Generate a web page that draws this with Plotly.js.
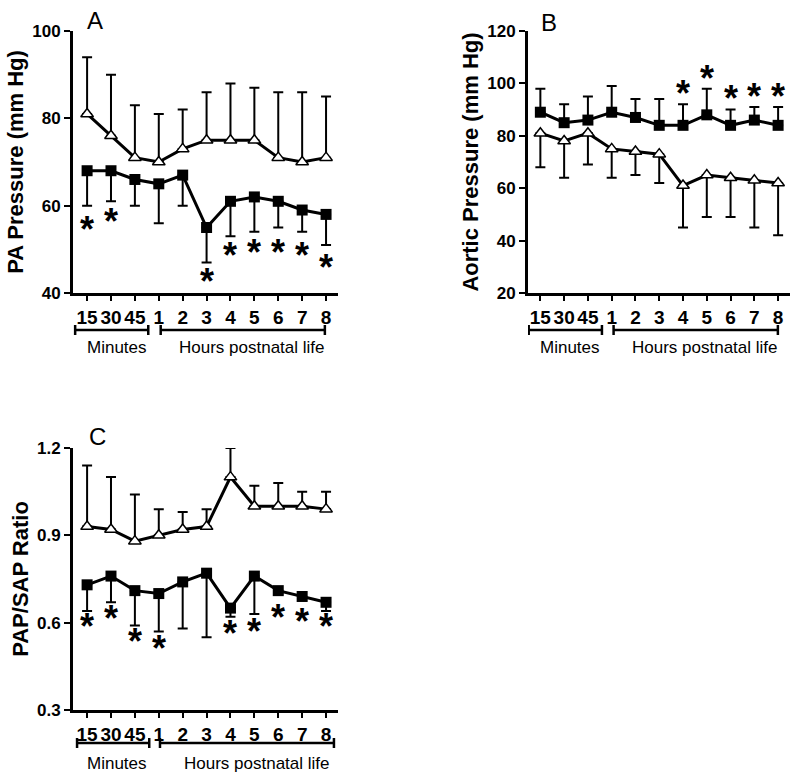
<!DOCTYPE html>
<html>
<head>
<meta charset="utf-8">
<script src="https://cdn.plot.ly/plotly-3.0.1.min.js"></script>
<style>
body { margin: 0; background: #fff; }
#container { width: 800px; height: 780px; }
</style>
</head>
<body>
<div id="container"></div>
<script>
var timeLabels = ['15', '30', '45', '1', '2', '3', '4', '5', '6', '7', '8'];
var timeIdx = [0, 1, 2, 3, 4, 5, 6, 7, 8, 9, 10];

// A: PA pressure
var paOpen = [81, 76, 71, 70, 73, 75, 75, 75, 71, 70, 71];
var paOpenUpper = [94, 90, 83, 81, 82, 86, 88, 87, 86, 86, 85];
var paFilled = [68, 68, 66, 65, 67, 55, 61, 62, 61, 59, 58];
var paFilledLower = [60, 61, 60, 56, 60, 47, 53, 54, 55, 54, 51];
var paStarIdx = [0, 1, 5, 6, 7, 8, 9, 10];
var paStarY = [55.8, 57.6, 43.7, 49.8, 50.5, 50.5, 49.8, 47.1];

// B: aortic pressure
var aoFilled = [89, 85, 86, 89, 87, 84, 84, 88, 84, 86, 84];
var aoFilledUpper = [98, 92, 95, 99, 94, 94, 92, 98, 90, 91, 91];
var aoOpen = [81, 78, 81, 75, 74, 73, 61, 65, 64, 63, 62];
var aoOpenLower = [68, 64, 69, 64, 65, 62, 45, 49, 49, 45, 42];
var aoStarIdx = [6, 7, 8, 9, 10];
var aoStarY = [98.2, 103.9, 96, 96.9, 96.9];

// C: PAP/SAP ratio
var ratioOpen = [0.93, 0.92, 0.88, 0.90, 0.92, 0.93, 1.10, 1.00, 1.00, 1.00, 0.99];
var ratioOpenUpper = [1.14, 1.10, 1.04, 0.99, 0.98, 0.99, 1.20, 1.07, 1.08, 1.05, 1.05];
var ratioFilled = [0.73, 0.76, 0.71, 0.70, 0.74, 0.77, 0.65, 0.76, 0.71, 0.69, 0.67];
var ratioFilledLower = [0.64, 0.67, 0.59, 0.57, 0.58, 0.55, 0.62, 0.63, 0.70, 0.68, 0.64];
var ratioStarIdx = [0, 1, 2, 3, 6, 7, 8, 9, 10];
var ratioStarY = [0.603, 0.632, 0.551, 0.529, 0.58, 0.586, 0.634, 0.62, 0.603];

var FONT = 'Arial, "Liberation Sans", sans-serif';
var W = 800, H = 780;

function diff(a, b) {
    return a.map(function (v, i) { return Math.abs(v - b[i]); });
}
function zeros(n) {
    return timeIdx.map(function () { return 0; }).slice(0, n);
}

function seriesTrace(xa, ya, y, end, up, filled) {
    var d = diff(end, y);
    var marker = filled
        ? { symbol: 'square', size: 11, color: 'black' }
        : { symbol: 'triangle-up', size: 11, color: 'white', line: { color: 'black', width: 1.5 } };
    return {
        x: timeIdx, y: y, xaxis: xa, yaxis: ya,
        mode: 'lines+markers', type: 'scatter',
        line: { color: 'black', width: 3 },
        marker: marker,
        error_y: {
            type: 'data', symmetric: false,
            array: up ? d : zeros(d.length), arrayminus: up ? zeros(d.length) : d,
            color: 'black', thickness: 2, width: 5
        },
        cliponaxis: false, hoverinfo: 'skip'
    };
}

var data = [
    seriesTrace('x', 'y', paFilled, paFilledLower, false, true),
    seriesTrace('x', 'y', paOpen, paOpenUpper, true, false),
    seriesTrace('x2', 'y2', aoFilled, aoFilledUpper, true, true),
    seriesTrace('x2', 'y2', aoOpen, aoOpenLower, false, false),
    seriesTrace('x3', 'y3', ratioFilled, ratioFilledLower, false, true),
    seriesTrace('x3', 'y3', ratioOpen, ratioOpenUpper, true, false)
];

function xAxis(left, right, anchor, lo) {
    return {
        domain: [left / W, right / W], anchor: anchor,
        range: [lo, 10.5],
        tickvals: timeIdx, ticktext: timeLabels,
        ticks: 'outside', ticklen: 5, tickwidth: 2, tickcolor: 'black',
        showline: true, linewidth: 3, linecolor: 'black',
        showgrid: false, zeroline: false,
        tickfont: { family: FONT, size: 19, color: 'black', weight: 'bold' }
    };
}

function yAxis(top, bottom, anchor, range, tickvals, ticktext, title) {
    return {
        domain: [1 - bottom / H, 1 - top / H], anchor: anchor,
        range: range, tickvals: tickvals, ticktext: ticktext,
        ticks: 'outside', ticklen: 6, tickwidth: 2, tickcolor: 'black',
        showline: true, linewidth: 3, linecolor: 'black',
        showgrid: false, zeroline: false,
        tickfont: { family: FONT, size: 17, color: 'black', weight: 'bold' },
        title: { text: title, standoff: 3, font: { family: FONT, size: 22, color: 'black', weight: 'bold' } }
    };
}

// brackets under the time axis
function bracket(xref, yPx, x0, x1) {
    var y = 1 - yPx / H, c = 5 / H;
    var st = { color: 'black', width: 2.5 };
    return [
        { type: 'line', xref: xref, yref: 'paper', x0: x0, x1: x1, y0: y, y1: y, line: st },
        { type: 'line', xref: xref, yref: 'paper', x0: x0, x1: x0, y0: y - c, y1: y + c, line: st },
        { type: 'line', xref: xref, yref: 'paper', x0: x1, x1: x1, y0: y - c, y1: y + c, line: st }
    ];
}

var shapes = [].concat(
    bracket('x', 330, -0.5, 2.56), bracket('x', 330, 3.08, 9.95),
    bracket('x2', 330, -0.49, 2.59), bracket('x2', 330, 3.08, 9.99),
    bracket('x3', 743, -0.42, 2.6), bracket('x3', 743, 3.05, 10.33)
);

function label(text, xPx, yPx, size) {
    return {
        text: text, xref: 'paper', yref: 'paper', x: xPx / W, y: 1 - yPx / H,
        xanchor: 'center', yanchor: 'middle', showarrow: false,
        font: { family: FONT, size: size, color: 'black' }
    };
}

function stars(xref, yref, idx, ys) {
    return idx.map(function (k, i) {
        return {
            text: '*', xref: xref, yref: yref, x: k, y: ys[i],
            xanchor: 'center', yanchor: 'middle', yshift: -5, showarrow: false,
            font: { family: FONT, size: 36, color: 'black', weight: 'bold' }
        };
    });
}

var annotations = [
    label('A', 95, 20, 24), label('B', 549, 22, 24), label('C', 97, 436, 24),
    label('Minutes', 117, 347, 17), label('Hours postnatal life', 252, 347, 17),
    label('Minutes', 570, 347, 17), label('Hours postnatal life', 705, 347, 17),
    label('Minutes', 117, 763, 17), label('Hours postnatal life', 257, 763, 17)
].concat(
    stars('x', 'y', paStarIdx, paStarY),
    stars('x2', 'y2', aoStarIdx, aoStarY),
    stars('x3', 'y3', ratioStarIdx, ratioStarY)
);

var layout = {
    width: W, height: H,
    margin: { l: 0, r: 0, t: 0, b: 0 },
    showlegend: false,
    plot_bgcolor: 'white', paper_bgcolor: 'white',
    font: { family: FONT, color: 'black' },
    xaxis: xAxis(73, 338, 'y', -0.59),
    yaxis: yAxis(31, 293, 'x', [40, 100], [40, 60, 80, 100], ['40', '60', '80', '100'], 'PA Pressure (mm Hg)'),
    xaxis2: xAxis(528, 790, 'y2', -0.52),
    yaxis2: yAxis(31, 293, 'x2', [20, 120], [20, 40, 60, 80, 100, 120], ['20', '40', '60', '80', '100', '120'], 'Aortic Pressure (mm Hg)'),
    xaxis3: xAxis(73, 338, 'y3', -0.59),
    yaxis3: yAxis(448, 710, 'x3', [0.3, 1.2], [0.3, 0.6, 0.9, 1.2], ['0.3', '0.6', '0.9', '1.2'], 'PAP/SAP Ratio'),
    shapes: shapes,
    annotations: annotations
};

Plotly.newPlot('container', data, layout, { displayModeBar: false, staticPlot: true });
</script>
</body>
</html>
